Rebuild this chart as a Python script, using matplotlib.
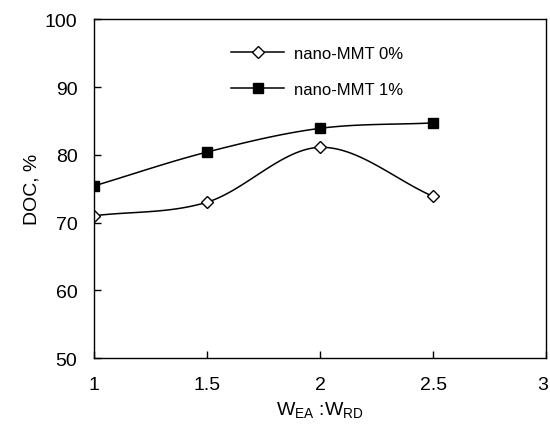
import numpy as np
import matplotlib.pyplot as plt
from matplotlib.transforms import offset_copy

plt.rcParams['font.family'] = ['Liberation Sans', 'DejaVu Sans']

ratio = [1.0, 1.5, 2.0, 2.5]
doc_0 = [71.0, 73.0, 81.1, 73.85]
doc_1 = [75.4, 80.4, 83.9, 84.7]
labels = ['nano-MMT 0%', 'nano-MMT 1%']


def smooth(x, y, n=30):
    # Catmull-Rom curve through the points, to mimic the smoothed lines
    x = np.asarray(x, float)
    y = np.asarray(y, float)
    px = np.concatenate([[2 * x[0] - x[1]], x, [2 * x[-1] - x[-2]]])
    py = np.concatenate([[2 * y[0] - y[1]], y, [2 * y[-1] - y[-2]]])
    xs, ys = [], []
    t = np.linspace(0, 1, n)
    for i in range(1, len(px) - 2):
        for p, out in ((px, xs), (py, ys)):
            p0, p1, p2, p3 = p[i - 1], p[i], p[i + 1], p[i + 2]
            out.extend(0.5 * (2 * p1 + (-p0 + p2) * t
                              + (2 * p0 - 5 * p1 + 4 * p2 - p3) * t ** 2
                              + (-p0 + 3 * p1 - 3 * p2 + p3) * t ** 3))
    return xs, ys


fig = plt.figure(figsize=(5.5, 4.31), dpi=100)
ax = fig.add_axes([0.171, 0.167, 0.822, 0.786])

for yv, mk, fc, lab in ((doc_0, 'D', 'white', labels[0]), (doc_1, 's', 'black', labels[1])):
    ms = 7 if mk == 's' else 6.5
    sx, sy = smooth(ratio, yv)
    ax.plot(sx, sy, color='black', lw=1.1)
    ax.plot(ratio, yv, linestyle='none', marker=mk, ms=ms, mfc=fc, mec='black', mew=1.0)
    ax.plot([], [], color='black', lw=1.1, marker=mk, ms=ms,
            mfc=fc, mec='black', mew=1.0, label=lab)

ax.set_xlim(1, 3)
ax.set_ylim(50, 100)
ax.set_xticks([1, 1.5, 2, 2.5, 3])
ax.set_xticklabels(['1', '1.5', '2', '2.5', '3'])
ax.set_yticks([50, 60, 70, 80, 90, 100])
ax.tick_params(direction='in', length=5, width=1, labelsize=14)
ax.tick_params(axis='x', pad=13)
ax.tick_params(axis='y', pad=12)
for s in ax.spines.values():
    s.set_linewidth(1.0)

# the last x label sits a little left of the right edge
last = ax.get_xticklabels()[-1]
last.set_transform(offset_copy(last.get_transform(), fig=fig, x=-3, y=0, units='dots'))

ax.set_xlabel(r'W$_{\mathregular{EA}}$ :W$_{\mathregular{RD}}$', fontsize=14, labelpad=5)
ax.set_ylabel('DOC, %', fontsize=14, labelpad=3)

ax.legend(loc='upper left', bbox_to_anchor=(0.27, 0.965), frameon=False, fontsize=12,
          handlelength=3.2, labelspacing=1.25, handletextpad=0.6)

fig.savefig('out.png', dpi=100)
